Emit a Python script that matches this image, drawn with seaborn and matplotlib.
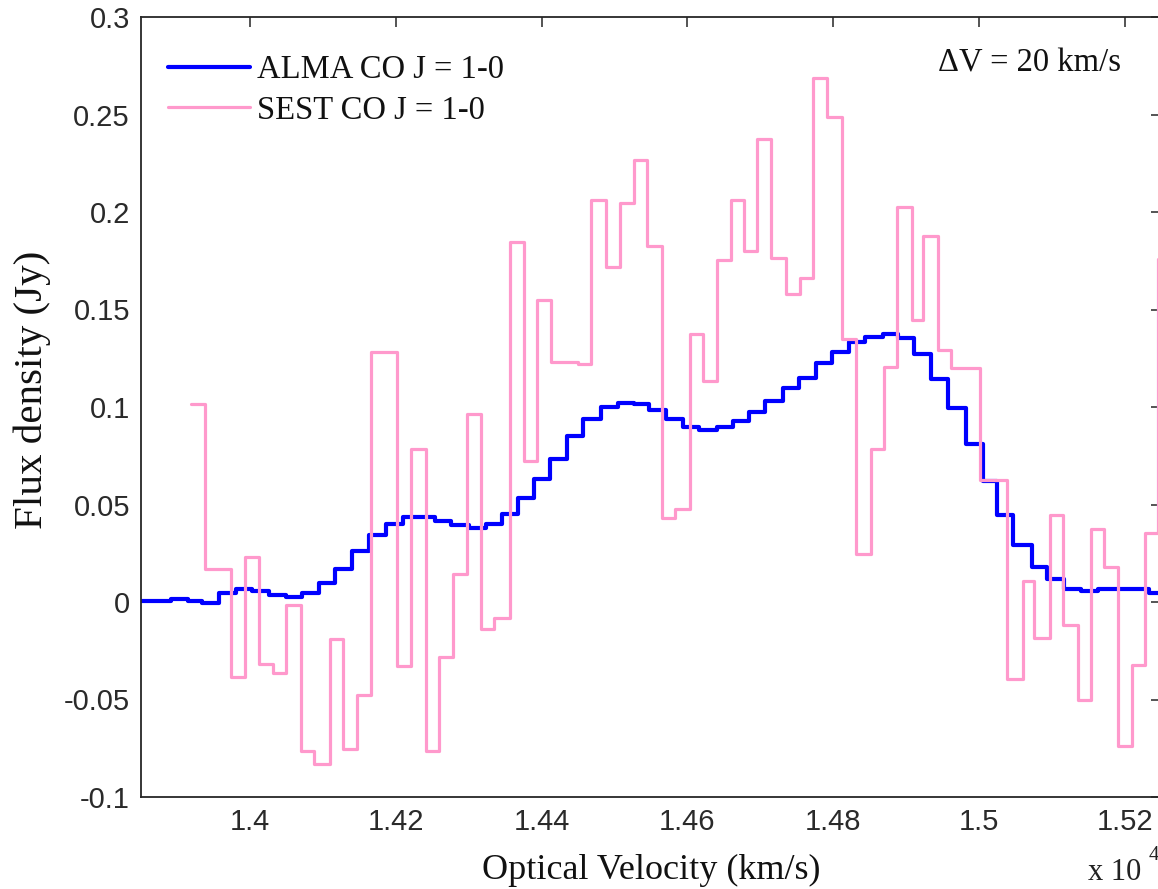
import matplotlib
matplotlib.use("Agg")
import matplotlib.pyplot as plt
import seaborn as sns
import pandas as pd

# ---------------- data ----------------
# ALMA CO J=1-0 spectrum: channel left edges (km/s) and flux (Jy)
alma_edges = [13835, 13891, 13914, 13934, 13957, 13980, 14003, 14026, 14049, 14071,
              14094, 14116, 14139, 14163, 14186, 14209, 14231, 14253, 14276, 14300,
              14323, 14346, 14367, 14389, 14412, 14435, 14457, 14481, 14505, 14527,
              14547, 14570, 14594, 14616, 14640, 14663, 14684, 14707, 14731, 14753,
              14776, 14798, 14822, 14844, 14868, 14889, 14911, 14934, 14957, 14982,
              15005, 15025, 15047, 15073, 15094, 15117, 15140, 15163, 15188, 15211,
              15234]
alma_end = 15260
alma_flux = [0.0005, 0.0014, 0.0005, -0.0003, 0.0048, 0.0065, 0.0056, 0.0036, 0.0026, 0.0045,
             0.0096, 0.0168, 0.0262, 0.0342, 0.0402, 0.0436, 0.0436, 0.0416, 0.0394, 0.0382,
             0.0402, 0.0453, 0.0532, 0.0630, 0.0733, 0.0849, 0.0938, 0.1001, 0.1023, 0.1015,
             0.0984, 0.0941, 0.0898, 0.0881, 0.0900, 0.0929, 0.0972, 0.1032, 0.1097, 0.1151,
             0.1225, 0.1280, 0.1331, 0.1357, 0.1374, 0.1354, 0.1272, 0.1146, 0.0994, 0.0810,
             0.0621, 0.0445, 0.0293, 0.0181, 0.0117, 0.0065, 0.0056, 0.0065, 0.0065, 0.0065,
             0.0048]

# SEST CO J=1-0 spectrum: channel left edges (km/s) and flux (Jy)
sest_edges = [13919, 13938, 13955, 13973, 13993, 14012, 14031, 14049, 14069, 14088,
              14109, 14127, 14147, 14165, 14183, 14202, 14221, 14241, 14259, 14278,
              14297, 14317, 14335, 14356, 14376, 14393, 14413, 14431, 14450, 14467,
              14488, 14507, 14527, 14545, 14565, 14583, 14603, 14621, 14641, 14660,
              14678, 14696, 14715, 14735, 14754, 14773, 14792, 14812, 14831, 14852,
              14870, 14888, 14908, 14923, 14944, 14962, 14982, 15001, 15020, 15039,
              15060, 15076, 15097, 15115, 15136, 15154, 15172, 15191, 15210, 15228,
              15246]
sest_end = 15265
sest_flux = [0.1015, 0.0168, 0.0168, -0.0385, 0.0233, -0.0317, -0.0366, -0.0014, -0.0765, -0.0830,
             -0.0188, -0.0756, -0.0479, 0.1283, 0.1283, -0.0329, 0.0787, -0.0765, -0.0282, 0.0142,
             0.0963, -0.0140, -0.0080, 0.1848, 0.0724, 0.1550, 0.1229, 0.1229, 0.1222, 0.2062,
             0.1716, 0.2045, 0.2267, 0.1828, 0.0430, 0.0479, 0.1374, 0.1131, 0.1756, 0.2062,
             0.1798, 0.2375, 0.1766, 0.1580, 0.1662, 0.2688, 0.2486, 0.1350, 0.0245, 0.0784,
             0.1203, 0.2025, 0.1448, 0.1879, 0.1292, 0.1200, 0.1200, 0.0625, 0.0625, -0.0397,
             0.0108, -0.0183, 0.0447, -0.0120, -0.0500, 0.0376, 0.0181, -0.0739, -0.0325, 0.0356,
             0.1760]

series_labels = ["ALMA CO J = 1-0", "SEST CO J = 1-0"]
x_ticks = [14000, 14200, 14400, 14600, 14800, 15000, 15200]
x_tick_labels = ["1.4", "1.42", "1.44", "1.46", "1.48", "1.5", "1.52"]
y_ticks = [-0.1, -0.05, 0, 0.05, 0.1, 0.15, 0.2, 0.25, 0.3]
y_tick_labels = ["-0.1", "-0.05", "0", "0.05", "0.1", "0.15", "0.2", "0.25", "0.3"]

# ---------------- figure ----------------
sns.set_style("white")
plt.rcParams["font.family"] = ["Liberation Serif", "DejaVu Serif"]

W, H = 1158, 889
fig = plt.figure(figsize=(W / 100, H / 100), dpi=100)
ax_l, ax_r, ax_t, ax_b = 141, 1161, 17, 797
ax = fig.add_axes([ax_l / W, 1 - ax_b / H, (ax_r - ax_l) / W, (ax_b - ax_t) / H])

alma_df = pd.DataFrame({"v": alma_edges + [alma_end], "f": alma_flux + [alma_flux[-1]]})
sest_df = pd.DataFrame({"v": sest_edges + [sest_end], "f": sest_flux + [sest_flux[-1]]})

sns.lineplot(data=alma_df, x="v", y="f", ax=ax, drawstyle="steps-post", color="#0000ff",
             linewidth=3.0, estimator=None, sort=False, label=series_labels[0])
sns.lineplot(data=sest_df, x="v", y="f", ax=ax, drawstyle="steps-post", color="#ff99cc",
             linewidth=2.3, estimator=None, sort=False, label=series_labels[1])

ax.set_xlim(13850, 15250)
ax.set_ylim(-0.1, 0.3)
ax.set_xticks(x_ticks)
ax.set_xticklabels(x_tick_labels)
ax.set_yticks(y_ticks)
ax.set_yticklabels(y_tick_labels)

for sp in ax.spines.values():
    sp.set_color("#262626")
    sp.set_linewidth(1.3)
    sp.set_visible(True)

ax.tick_params(axis="both", which="major", direction="in", length=7.2, width=1.1,
               color="#262626", top=True, right=True, labelsize=21, labelcolor="#2a2a2a")
ax.tick_params(axis="x", pad=8)
ax.tick_params(axis="y", pad=8)
for lab in ax.get_xticklabels() + ax.get_yticklabels():
    lab.set_family(["Liberation Sans", "DejaVu Sans"])

ax.set_xlabel("Optical Velocity (km/s)", fontsize=26, labelpad=13, color="#111111")
ax.set_ylabel("Flux density (Jy)", fontsize=29.5, color="#111111")
ax.yaxis.set_label_coords(-0.088, (ax_b - 390) / (ax_b - ax_t))

leg = ax.legend(loc="upper left", bbox_to_anchor=(0.0265, 0.952), frameon=False,
                borderpad=0, borderaxespad=0, handlelength=2.52, handletextpad=0.21,
                labelspacing=0.32, prop={"family": "Liberation Serif", "size": 23.5})
for t in leg.get_texts():
    t.set_color("#111111")

ax.text((938 - ax_l) / (ax_r - ax_l), (ax_b - 72) / (ax_b - ax_t), "\u0394V = 20 km/s",
        transform=ax.transAxes, fontsize=23.5, ha="left", va="baseline", color="#111111")

fig.text(1088 / W, 1 - 880 / H, "x 10", fontsize=22, ha="left", va="baseline",
         color="#222222")
fig.text(1149 / W, 1 - 860 / H, "4", fontsize=15, ha="left", va="baseline",
         color="#222222")

fig.savefig("out.png", dpi=100)
